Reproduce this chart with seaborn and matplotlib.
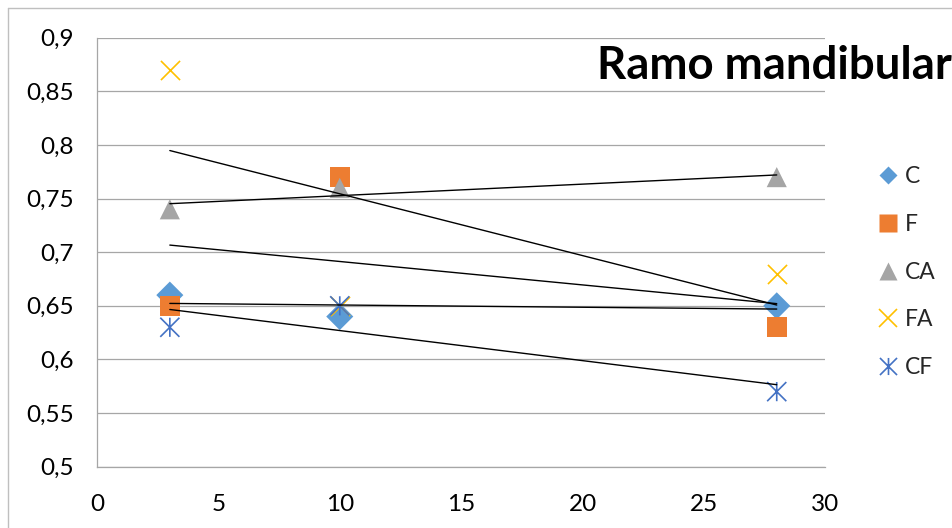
import numpy as np
import pandas as pd
import matplotlib
matplotlib.use("Agg")
import matplotlib.pyplot as plt
from matplotlib.path import Path
from matplotlib.lines import Line2D
from matplotlib.ticker import FuncFormatter, FixedLocator
import seaborn as sns

# Measurement days and mean values per group
days = [3, 10, 28]
c_vals = [0.66, 0.64, 0.65]
f_vals = [0.65, 0.77, 0.63]
ca_vals = [0.74, 0.76, 0.77]
fa_vals = [0.87, 0.65, 0.68]
cf_vals = [0.63, 0.65, 0.57]

series_names = ["C", "F", "CA", "FA", "CF"]
colors = ["#5B9BD5", "#ED7D31", "#A5A5A5", "#FFC000", "#4472C4"]
x_ticks = [0, 5, 10, 15, 20, 25, 30]
y_ticks = [0.5, 0.55, 0.6, 0.65, 0.7, 0.75, 0.8, 0.85, 0.9]
title = "Ramo mandibular"

sns.set_style("white")
plt.rcParams["font.family"] = ["Lato", "DejaVu Sans"]

# asterisk marker: an X plus a vertical stroke
asterisk = Path(
    [(-1, -1), (1, 1), (-1, 1), (1, -1), (0, -1), (0, 1)],
    [Path.MOVETO, Path.LINETO, Path.MOVETO, Path.LINETO, Path.MOVETO, Path.LINETO],
)

values = [c_vals, f_vals, ca_vals, fa_vals, cf_vals]
markers = ["D", "s", "^", "x", asterisk]
sizes = [190, 200, 210, 190, 190]
filled = [True, True, True, False, False]

fig = plt.figure(figsize=(9.52, 5.28), dpi=100)
ax = fig.add_axes([0.1019, 0.1161, 0.8668 - 0.1019 + 0.0001, 0.9286 - 0.1161])

grid_col = "#A6A6A6"

for i, (name, vals, mk, sz, fl, col) in enumerate(
    zip(series_names, values, markers, sizes, filled, colors)
):
    df = pd.DataFrame({"dia": days, "valor": vals})
    if fl:
        sns.scatterplot(data=df, x="dia", y="valor", marker=mk, s=sz, color=col,
                        edgecolor="none", linewidth=0, ax=ax, zorder=3 + i * 0.1,
                        legend=False)
    elif mk == "x":
        sns.scatterplot(data=df, x="dia", y="valor", marker=mk, s=sz, color=col,
                        linewidth=1.2, ax=ax, zorder=3 + i * 0.1, legend=False)
    else:
        sns.scatterplot(data=df, x="dia", y="valor", marker=mk, s=sz, color=col,
                        facecolor="none", edgecolor=col, linewidth=1.2, ax=ax,
                        zorder=3 + i * 0.1, legend=False)

# linear trend line for each group
for vals in values:
    sns.regplot(x=days, y=vals, scatter=False, ci=None, truncate=True,
                color="black", line_kws={"linewidth": 1.0, "zorder": 5}, ax=ax)

ax.set_xlim(0, 30)
ax.set_ylim(0.5, 0.9)
ax.xaxis.set_major_locator(FixedLocator(x_ticks))
ax.yaxis.set_major_locator(FixedLocator(y_ticks))
comma = FuncFormatter(lambda v, p: ("%g" % v).replace(".", ","))
ax.xaxis.set_major_formatter(comma)
ax.yaxis.set_major_formatter(comma)
ax.set_xlabel("")
ax.set_ylabel("")

ax.yaxis.grid(True, color=grid_col, linewidth=0.9)
ax.xaxis.grid(False)
ax.set_axisbelow(True)
for side in ["top", "right"]:
    ax.spines[side].set_visible(False)
for side in ["left", "bottom"]:
    ax.spines[side].set_color(grid_col)
    ax.spines[side].set_linewidth(0.9)

ax.tick_params(axis="both", which="major", direction="out", length=5.8,
               width=0.9, color=grid_col, labelsize=17.5, labelcolor="black")
ax.tick_params(axis="y", pad=11)
ax.tick_params(axis="x", pad=14)

# chart title
fig.text(597 / 952, 1 - 66 / 528, title, fontsize=32.8, fontweight="bold",
         ha="left", va="center", color="black")

# legend
handles = []
leg_sizes = [8.8, 12.3, 12.8, 12.3, 12.3]
for mk, col, fl, ms in zip(markers, colors, filled, leg_sizes):
    if fl:
        handles.append(Line2D([], [], linestyle="none", marker=mk, markersize=ms,
                              markerfacecolor=col, markeredgecolor="none"))
    else:
        handles.append(Line2D([], [], linestyle="none", marker=mk, markersize=ms,
                              markerfacecolor="none", markeredgecolor=col,
                              markeredgewidth=1.2))
fig.legend(handles, series_names, loc="upper left",
           bbox_to_anchor=(877 / 952, 1 - 166 / 528), frameon=False,
           fontsize=16.5, handlelength=1.0, handletextpad=0.2,
           labelspacing=1.17, borderpad=0, borderaxespad=0)

# outer chart border
fig.add_artist(Line2D([8 / 952, 8 / 952], [0, 1 - 8 / 528], color="#BFBFBF",
                      linewidth=1.0, transform=fig.transFigure))
fig.add_artist(Line2D([8 / 952, 1], [1 - 8 / 528, 1 - 8 / 528], color="#BFBFBF",
                      linewidth=1.0, transform=fig.transFigure))

fig.savefig("out.png", dpi=100)
